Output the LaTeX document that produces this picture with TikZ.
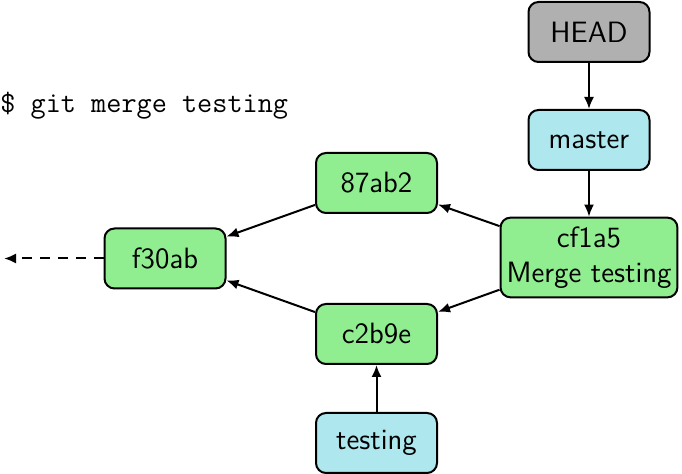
\documentclass[tikz,border=0pt]{standalone}
\usepackage{fontspec}
\usetikzlibrary{arrows.meta}
\definecolor{commitgreen}{HTML}{90EE90}
\definecolor{branchcyan}{HTML}{AEE7EE}
\definecolor{headgray}{HTML}{B0B0B0}
\begin{document}
\begin{tikzpicture}[x=0.5pt,y=-0.5pt,
  box/.style={draw=black,line width=1pt,rounded corners=5pt,minimum width=60.5pt,minimum height=30pt,
    inner xsep=3pt,inner ysep=4.5pt,align=center,font=\sffamily\fontsize{14.7}{17.5}\selectfont},
  commit/.style={box,fill=commitgreen},
  branch/.style={box,fill=branchcyan},
  headbox/.style={box,fill=headgray},
  arr/.style={line width=1pt,-{Latex[length=6pt,width=5pt]}},
  darr/.style={arr,dash pattern=on 5pt off 4pt}]
\useasboundingbox (0,0) rectangle (682,474);
\node[anchor=base west,inner sep=0pt,font=\ttfamily\fontsize{14.7}{17.5}\selectfont] (cmd) at (0,113) {\$ git merge testing};
\node[headbox] (head) at (589,32) {HEAD};
\node[branch] (master) at (589,140) {master};
\node[commit] (cf1a5) at (589,257.5) {cf1a5\\Merge testing};
\node[commit] (87ab2) at (376.5,183) {87ab2};
\node[commit] (c2b9e) at (376.5,334) {c2b9e};
\node[branch] (testing) at (376.5,443) {testing};
\node[commit] (f30ab) at (165,258.5) {f30ab};
\coordinate (prev) at (4,258.5);
\draw[arr] (head) -- (master);
\draw[arr] (master) -- (cf1a5);
\draw[arr] (cf1a5) -- (87ab2);
\draw[arr] (cf1a5) -- (c2b9e);
\draw[arr] (87ab2) -- (f30ab);
\draw[arr] (c2b9e) -- (f30ab);
\draw[arr] (testing) -- (c2b9e);
\draw[darr] (f30ab) -- (prev);
\end{tikzpicture}
\end{document}
